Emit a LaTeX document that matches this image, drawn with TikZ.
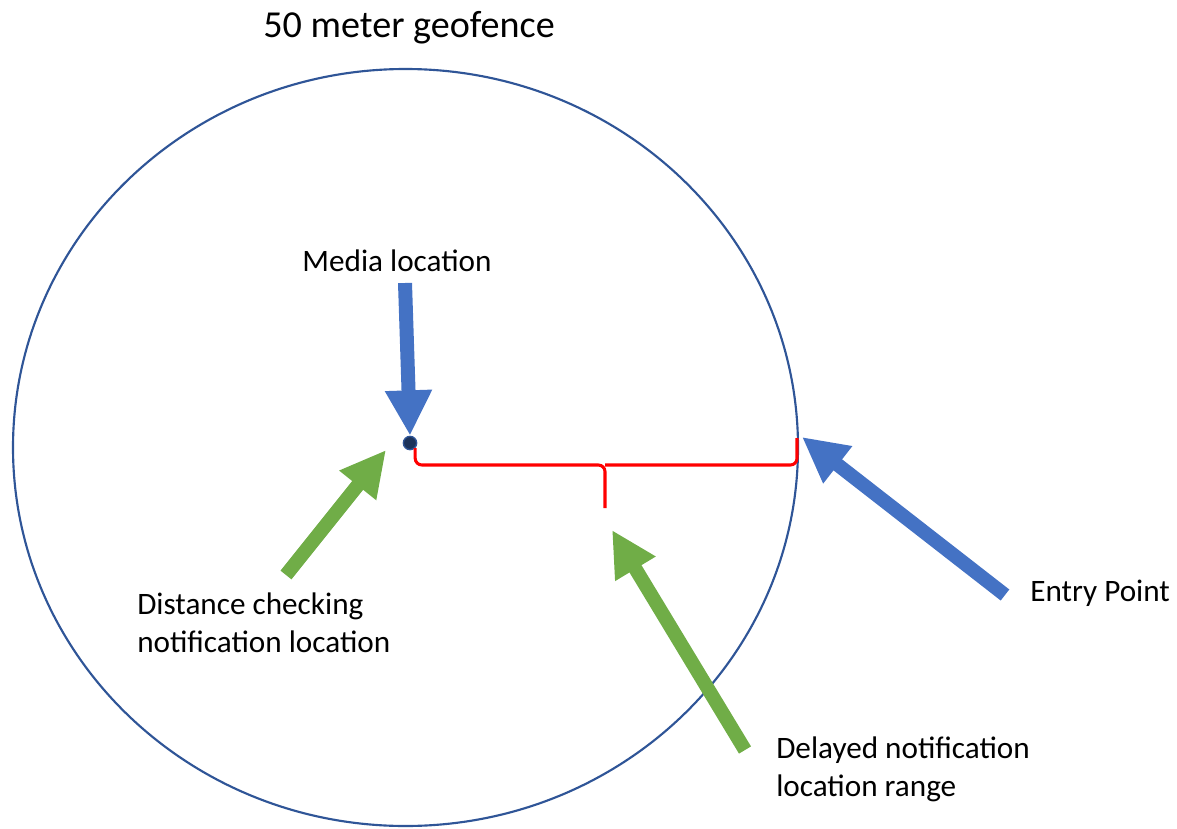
\documentclass[tikz,border=0pt]{standalone}
\usepackage{fontspec}
\setmainfont{Carlito}
\usetikzlibrary{arrows.meta}
\definecolor{fence}{HTML}{2F5597}
\definecolor{pointer}{HTML}{4472C4}
\definecolor{hint}{HTML}{70AD47}
\begin{document}
\begin{tikzpicture}[x=0.75pt, y=-0.75pt,
    label/.style={font=\fontsize{23.4}{28.5}\selectfont, align=left, inner sep=0pt},
    bigarrow/.style={line width=10.5pt, -{Triangle[width=33pt, length=34pt]}}]
        \useasboundingbox (0,0) rectangle (1177,828);

        % geofence
        \node(title) [font=\fontsize{28.6}{34}\selectfont, inner sep=0pt] at (409, 28) {50 meter geofence};
        \draw[fence, line width=1.6pt] (405.5, 447.5) ellipse [x radius=392.5, y radius=378.5];

        % nodes
        \node(media) [circle, draw=fence, fill=fence!60!black, line width=1pt, inner sep=0pt, minimum size=10pt] at (410, 443) {};
        \node(medialbl) [label, anchor=base] at (397, 271) {Media location};
        \node(distlbl) [label, anchor=north west] at (137, 593) {Distance checking\\notification location};
        \node(entrylbl) [label, anchor=west] at (1030, 593) {Entry Point};
        \node(delaylbl) [label, anchor=north west] at (776, 737) {Delayed notification\\location range};

        \coordinate(entry) at (802, 437);
        \coordinate(mid) at (605, 508);
        \coordinate(near) at (386, 450);
        \coordinate(mediatail) at (405, 283);
        \coordinate(disttail) at (286, 575);
        \coordinate(entrytail) at (1005, 595);
        \coordinate(delaytail) at (745, 750);

        % range brace
        \draw[red, line width=2.3pt, rounded corners=5] (media.south east) |- (605, 465) -- (mid);
        \draw[red, line width=2.3pt, rounded corners=5] (605, 465) -- (797, 465) -- (797, 438);

        %arrows
        \draw[bigarrow, pointer] (mediatail) -- (media.north);
        \draw[bigarrow, hint] (disttail) -- (near);
        \draw[bigarrow, pointer] (entrytail) -- (entry);
        \draw[bigarrow, hint] (delaytail) -- (612, 530);

    \end{tikzpicture}
\end{document}
